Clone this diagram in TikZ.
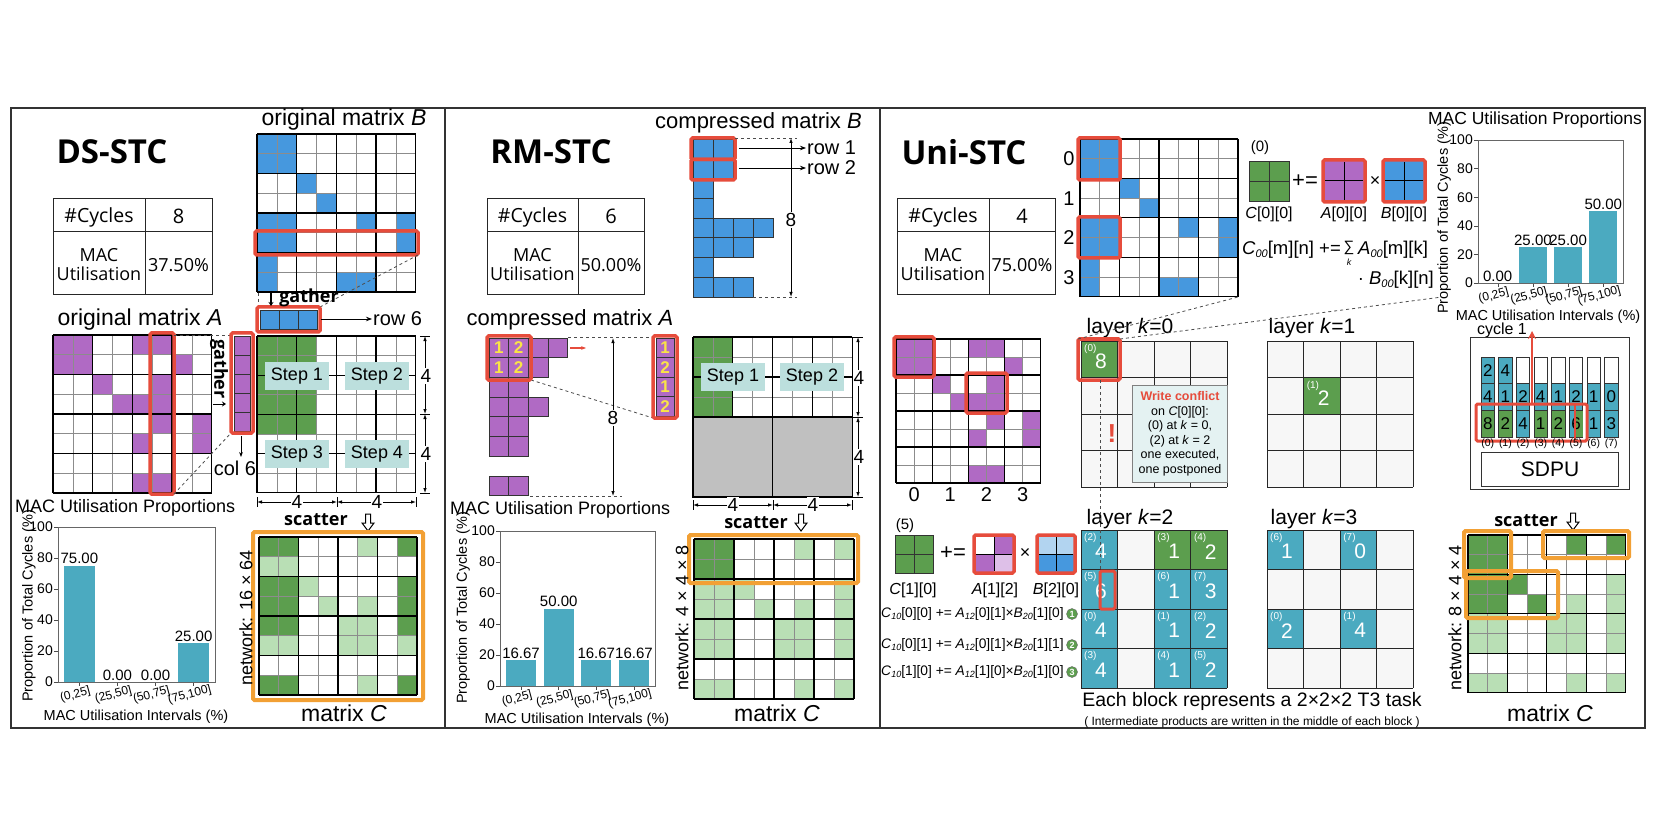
\documentclass[tikz,border=0pt]{standalone}
\usepackage{fontspec}
\setmainfont{Liberation Sans}
\newfontfamily\osans{Open Sans}
\usetikzlibrary{arrows.meta,calc}
\definecolor{purp}{RGB}{176,106,196}
\definecolor{lpurp}{RGB}{222,192,232}
\definecolor{blu}{RGB}{70,152,222}
\definecolor{lblu}{RGB}{178,212,240}
\definecolor{dgreen}{RGB}{92,158,78}
\definecolor{lgreen}{RGB}{185,223,181}
\definecolor{tealbar}{RGB}{75,170,192}
\definecolor{redc}{RGB}{230,76,60}
\definecolor{orangec}{RGB}{242,160,52}
\definecolor{stepc}{RGB}{188,223,221}
\definecolor{grayarea}{RGB}{192,192,192}
\definecolor{layerbg}{RGB}{247,247,247}
\definecolor{conflictbg}{RGB}{228,242,242}
\definecolor{yellowc}{RGB}{250,228,70}
\newcommand\fs[2]{\fontsize{#1}{#2}\selectfont}
\newcommand\subi[1]{\raisebox{-2.5pt}{\fs{11}{11}\itshape #1}}
\newcommand\subj[1]{\raisebox{-2pt}{\fs{9}{9}\itshape #1}}
\newcommand\mcells[6]{\foreach \ri/\ci in #6 {\fill[#5] ({#1+\ci*#3},{#2+\ri*#4}) rectangle ++(#3,#4);}}
\newcommand\mgridb[6]{%
  \foreach \ii in {0,...,#5} {\draw[gline] ({#1+\ii*#3},#2) -- ++(0,{#6*#4});}
  \foreach \ii in {0,...,#6} {\draw[gline] (#1,{#2+\ii*#4}) -- ++({#5*#3},0);}
  \foreach \ii in {0,2,...,#5} {\draw[bline] ({#1+\ii*#3},#2) -- ++(0,{#6*#4});}
  \foreach \ii in {0,2,...,#6} {\draw[bline] (#1,{#2+\ii*#4}) -- ++({#5*#3},0);}
}
\newcommand\hdarrow[2]{\draw[black,line width=1pt,fill=white] ({#1-2.5},#2) -- ({#1+2.5},#2) -- ({#1+2.5},{#2+9}) -- ({#1+6},{#2+9}) -- (#1,{#2+17}) -- ({#1-6},{#2+9}) -- ({#1-2.5},{#2+9}) -- cycle;}
\newcommand\stctable[6]{%
  \draw[black!85,line width=1pt] (#1,199) rectangle (#3,295);
  \draw[black!85,line width=1pt] (#2,199) -- (#2,295) (#1,232) -- (#3,232);
  \node[tabtxt,font=\osans\fs{19.5}{20}] (#6cyc) at ({(#1+#2)/2},217) {\#Cycles};
  \node[tabtxt,font=\osans\fs{20}{20}] (#6cycv) at ({(#2+#3)/2},216) {#4};
  \node[tabtxt] (#6mac) at ({(#1+#2)/2},265) {MAC\\Utilisation};
  \node[tabtxt] (#6macv) at ({(#2+#3)/2},265) {#5};
}
\newcommand\macchart[9]{%
  \pgfmathsetmacro\chsp{(#2-#1)/4.12}
  \pgfmathsetmacro\chsc{(#3-#4)/100}
  \foreach \vv [count=\ii from 0] in {#5,#6,#7,#8} {
    \pgfmathsetmacro\chx{#1+(\ii+0.56)*\chsp}
    \pgfmathsetmacro\chy{#3-\vv*\chsc}
    \fill[tealbar] ({\chx-0.4*\chsp},#3) rectangle ({\chx+0.4*\chsp},\chy);
    \node[font=\fs{15}{15},anchor=south,inner sep=1.5pt] (#9v\ii) at (\chx,\chy) {\vv};
    \draw[black!70] (\chx,#3) -- ++(0,4);
  }
  \draw[black!60,line width=0.8pt] (#1,#4) rectangle (#2,#3);
  \foreach \tk in {0,20,...,100} {
    \draw[black!70] (#1,{#3-\tk*\chsc}) -- ++(-4,0);
    \node[font=\fs{14}{14},anchor=east,inner sep=1pt] (#9t\tk) at ({#1-4},{#3-\tk*\chsc}) {\tk};
  }
  \foreach \lab [count=\ii from 0] in {{(0,25]},{(25,50]},{(50,75]},{(75,100]}} {
    \pgfmathsetmacro\chx{#1+(\ii+0.56)*\chsp}
    \node[font=\fs{12}{13},rotate=15,inner sep=0pt] (#9x\ii) at ({\chx-4},{#3+13}) {\lab};
  }
}
\def\lbw{36.6}
\newcommand\layergrid[3]{% x0, y0, block height
  \foreach \ii in {0,...,4} {\draw[black!85,line width=0.9pt] ({#1+\ii*\lbw},#2) -- ++(0,{4*#3});
    \draw[black!85,line width=0.9pt] (#1,{#2+\ii*#3}) -- ++({4*\lbw},0);}
}
\newcommand\lblk[8]{% x0,y0,row,col,color,idx,val,blockh
  \fill[#5] ({#1+#4*\lbw},{#2+#3*#8}) rectangle ++(\lbw,#8);
  \node[font=\fs{10}{10},text=white,anchor=north west,inner sep=0pt] at ({#1+#4*\lbw+3},{#2+#3*#8+3}) {(#6)};
  \node[font=\fs{21}{21},text=white,inner sep=0pt] at ({#1+#4*\lbw+20},{#2+#3*#8+#8/2+2}) {#7};
}
\def\Alist{0/0,0/1,0/4,0/5,1/0,1/1,1/6,2/2,2/5,3/3,3/4,3/5,4/5,4/7,5/4,5/7,7/4,7/5}
\def\Blist{0/0,0/1,1/0,1/1,2/2,3/3,4/0,4/1,4/5,4/7,5/0,5/1,5/7,6/0,7/0,7/4,7/5}
\def\DSdark{0/0,0/1,0/7,2/0,2/1,2/7,3/0,3/1,3/7,4/0,4/1,4/7,7/0,7/1,7/7}
\def\DSlight{0/5,1/0,1/1,2/2,3/3,3/5,4/4,4/5,5/0,5/1,5/4,5/5,5/7,7/5}
\def\RMlight{0/5,0/7,2/0,2/1,2/2,2/7,3/0,3/1,3/3,3/5,3/7,4/0,4/1,4/4,4/5,4/7,5/0,5/1,5/4,5/5,5/7,7/0,7/1,7/5,7/7}
\def\UNdark{0/0,0/1,1/0,1/1,0/5,0/7,2/2,3/3,2/0,2/1,3/0,3/1}
\def\UNlight{2/7,3/5,3/7,4/0,4/1,4/4,4/5,4/7,5/0,5/1,5/4,5/5,5/7,7/0,7/1,7/5,7/7}
\tikzset{
  gline/.style={black!45,line width=0.7pt},
  bline/.style={black,line width=1.3pt},
  redbox/.style={draw=redc,line width=3.5pt,rounded corners=1.5pt},
  orbox/.style={draw=orangec,line width=4pt,rounded corners=1.5pt},
  stepbox/.style={fill=stepc,minimum width=64pt,minimum height=28pt,inner sep=0pt,font=\fs{18}{20}},
  tabtxt/.style={font=\osans\fs{18}{19},align=center,inner sep=0pt},
  stctitle/.style={font=\osans\bfseries\fs{33}{36}},
  lab23/.style={font=\fs{23}{27},inner sep=0pt},
  boldlab/.style={font=\osans\bfseries\fs{18}{20},inner sep=0pt},
  dimline/.style={black,line width=0.8pt,>={Latex[length=5pt,width=3.5pt]},<->},
  dashedl/.style={dashed,black!70,line width=0.8pt},
  tinycell/.style={draw=black!80,line width=0.8pt},
  dimnum/.style={fill=white,inner sep=1pt,font=\fs{19}{19}},
}
\begin{document}
\begin{tikzpicture}[x=1pt,y=-1pt]
\useasboundingbox (0,0) rectangle (1660,834);
\fill[white] (0,0) rectangle (1660,834);
\draw[black!80,line width=1.2pt] (11,108) rectangle (1645,728);
\draw[black!80,line width=1.2pt] (445,108) -- (445,728);
\draw[black!80,line width=1.2pt] (880,108) -- (880,728);

%================ DS-STC =================
\node[stctitle] (dstitle) at (112,152) {DS-STC};
\stctable{53}{145}{212}{8}{37.50\%}{ds}
\node[lab23] (dsAl) at (140,320) {original matrix \textit{A}};
\mcells{53}{335}{19.85}{19.75}{purp}{\Alist}
\mgridb{53}{335}{19.85}{19.75}{8}{8}
\draw[redbox] (150,333) rectangle (174,494);
\node[lab23] (dsBl) at (344,120) {original matrix \textit{B}};
\mcells{257}{134}{19.85}{19.75}{blu}{\Blist}
\mgridb{257}{134}{19.85}{19.75}{8}{8}
\draw[redbox] (255,231) rectangle (418,255);
\coordinate (dsBr) at (418,255);
\coordinate (dsGr) at (320,307);
\draw[dashedl] (dsBr) -- (dsGr);
\draw[dashedl] (258,293) -- (258,307);
\foreach \ii in {0,1,2} {\draw[tinycell,fill=blu] ({260+\ii*19},310) rectangle ++(19,19);}
\draw[redbox] (257,307) rectangle (320,332);
\draw[black,line width=1.3pt,-{Stealth[length=4pt,width=5pt]}] (271,291) -- (271,306);
\node[boldlab] (dsgath) at (309,298) {gather};
\node[font=\fs{20}{22},anchor=west,inner sep=1pt] (dsrow6) at (372,319) {row 6};
\draw[black,line width=0.8pt,-{Stealth[length=6pt]}] (dsGr |- dsrow6.west) ++(1,0) -- (dsrow6.west);
\coordinate (dsAr1) at (174,335);
\coordinate (dsAr2) at (174,494);
\coordinate (dsGc1) at (231,335);
\coordinate (dsGc2) at (231,433);
\draw[dashedl] (dsAr1) -- (dsGc1);
\draw[dashedl] (dsAr2) -- (dsGc2);
\foreach \ii in {0,...,4} {\draw[tinycell,fill=purp] (234,{336+\ii*19}) rectangle ++(16,19);}
\draw[redbox] (231,333) rectangle (253,433);
\node[boldlab,rotate=-90] (dsgath2) at (219,369) {gather};
\draw[black,line width=1pt,-{Stealth[length=4pt,width=5pt]}] (213,404) -- (226,404);
\node[font=\fs{20}{22},inner sep=0pt] (dscol6) at (235,468) {col 6};
\draw[black,line width=0.8pt,-{Stealth[length=5pt]}] (241,436) -- (241,457);
\mcells{257}{336}{19.85}{19.6}{dgreen}{{0/0,0/1,0/2,1/0,1/1,1/2,2/0,2/1,2/2,3/0,3/1,3/2,4/0,4/1,4/2}}
\mgridb{257}{336}{19.85}{19.6}{8}{8}
\draw[black,line width=1.6pt] (336.4,336) -- (336.4,492.8) (257,414.4) -- (415.8,414.4);
\node[stepbox] (ds1) at (297,376) {Step 1};
\node[stepbox] (ds2) at (377,376) {Step 2};
\node[stepbox] (ds3) at (297,454) {Step 3};
\node[stepbox] (ds4) at (377,454) {Step 4};
\draw[dimline] (425,336) -- (425,414);
\draw[dimline] (425,414) -- (425,493);
\draw[black,line width=0.8pt] (420,336) -- (430,336) (420,414) -- (430,414) (420,493) -- (430,493);
\node[dimnum] (dsd1) at (426,376) {4};
\node[dimnum] (dsd2) at (426,454) {4};
\draw[dimline] (257,502) -- (337,502);
\draw[dimline] (337,502) -- (416,502);
\draw[black,line width=0.8pt] (257,497) -- (257,507) (337,497) -- (337,507) (416,497) -- (416,507);
\node[dimnum] (dsd3) at (297,502) {4};
\node[dimnum] (dsd4) at (377,502) {4};
\node[boldlab] (dsscat) at (316,520) {scatter};
\hdarrow{368}{514}
\mcells{259}{537}{19.75}{19.75}{dgreen}{\DSdark}
\mcells{259}{537}{19.75}{19.75}{lgreen}{\DSlight}
\mgridb{259}{537}{19.75}{19.75}{8}{8}
\draw[orbox] (253,532) rectangle (423,700);
\node[font=\fs{18}{20},rotate=90,inner sep=0pt] (dsnet) at (246,618) {network: 16 × 64};
\node[lab23] (dsCl) at (344,713) {matrix \textit{C}};
\node[font=\fs{18}{20},anchor=west,inner sep=0pt] (dsct) at (15,508) {MAC Utilisation Proportions};
\macchart{58}{215}{682}{527}{75.00}{0.00}{0.00}{25.00}{ds}
\node[font=\fs{14.5}{16},rotate=90,inner sep=0pt] (dsyl) at (29,606) {Proportion of Total Cycles (\%)};
\node[font=\fs{14.5}{16},inner sep=0pt] (dsxl) at (136,717) {MAC Utilisation Intervals (\%)};

%================ RM-STC =================
\node[stctitle] (rmtitle) at (551,152) {RM-STC};
\stctable{487}{578}{644}{6}{50.00\%}{rm}
\node[font=\fs{22}{26},anchor=west,inner sep=0pt] (rmBl) at (655,123) {compressed matrix \textit{B}};
\foreach \rr/\nn in {0/2,1/2,2/1,3/1,4/4,5/3,6/1,7/3} {\foreach \ii in {1,...,\nn} {\draw[tinycell,fill=blu] ({693+(\ii-1)*20},{139+\rr*19.75}) rectangle ++(20,19.75);}}
\draw[redbox] (691,138) rectangle (735,159.5);
\draw[redbox] (691,159.5) rectangle (735,180);
\node[font=\fs{20}{22},anchor=west,inner sep=1pt] (rmr1) at (806,148) {row 1};
\node[font=\fs{20}{22},anchor=west,inner sep=1pt] (rmr2) at (806,168) {row 2};
\draw[black,line width=0.8pt,-{Stealth[length=6pt]}] (739,148) -- (rmr1.west);
\draw[black,line width=0.8pt,-{Stealth[length=6pt]}] (739,168) -- (rmr2.west);
\draw[dashedl] (735,138) -- (797,138);
\draw[dashedl] (753,297) -- (797,297);
\draw[dimline] (791,138) -- (791,297);
\node[dimnum] (rmd8b) at (791,220) {8};
\node[font=\fs{22}{26},inner sep=0pt] (rmAl) at (570,320) {compressed matrix \textit{A}};
\draw[dashedl] (568,337) -- (653,337);
\draw[dashedl] (530,496) -- (622,496);
\draw[dashedl] (531,380) -- (653,418);
\foreach \rr/\nn in {0/4,1/3,2/2,3/3,4/2,5/2,7/2} {\foreach \ii in {1,...,\nn} {\draw[tinycell,fill=purp] ({489+(\ii-1)*19.7},{338+\rr*19.7}) rectangle ++(19.7,19.7);}}
\draw[redbox] (487,336) rectangle (531,380);
\foreach \rr/\ci/\tx in {0/0/1,0/1/2,1/0/1,1/1/2} {\node[font=\bfseries\fs{17}{17},text=yellowc,inner sep=0pt] (rmy\rr\ci) at ({489+\ci*19.7+9.85},{338+\rr*19.7+10}) {\tx};}
\draw[redc,line width=1.5pt,-{Stealth[length=5pt]}] (570,348) -- (586,348);
\draw[dimline] (613,338) -- (613,496);
\node[dimnum] (rmd8a) at (613,418) {8};
\foreach \ii/\tx in {0/1,1/2,2/1,3/2} {\draw[tinycell,fill=purp] (656,{338+\ii*19.5}) rectangle ++(18,19.5);
  \node[font=\bfseries\fs{17}{17},text=yellowc,inner sep=0pt] (rmv\ii) at (665,{338+\ii*19.5+10}) {\tx};}
\draw[redbox] (653,336) rectangle (677,418);
\mcells{693}{337}{19.9}{20}{dgreen}{{0/0,0/1,1/0,1/1,2/0,2/1,3/0,3/1}}
\mgridb{693}{337}{19.9}{20}{8}{4}
\fill[grayarea] (693,417) rectangle (852.2,497);
\draw[black,line width=1.3pt] (693,417) rectangle (852.2,497) (772.6,337) -- (772.6,497);
\node[stepbox] (rm1) at (733,377) {Step 1};
\node[stepbox] (rm2) at (812,377) {Step 2};
\draw[dimline] (858,337) -- (858,417);
\draw[dimline] (858,417) -- (858,497);
\draw[black,line width=0.8pt] (853,337) -- (863,337) (853,417) -- (863,417) (853,497) -- (863,497);
\node[dimnum] (rmd1) at (859,378) {4};
\node[dimnum] (rmd2) at (859,457) {4};
\draw[dimline] (693,505) -- (773,505);
\draw[dimline] (773,505) -- (852,505);
\draw[black,line width=0.8pt] (693,500) -- (693,510) (773,500) -- (773,510) (852,500) -- (852,510);
\node[dimnum] (rmd3) at (733,505) {4};
\node[dimnum] (rmd4) at (813,505) {4};
\node[boldlab] (rmscat) at (756,523) {scatter};
\hdarrow{801}{514}
\mcells{694}{539}{20}{20}{dgreen}{{0/0,0/1,1/0,1/1}}
\mcells{694}{539}{20}{20}{lgreen}{\RMlight}
\mgridb{694}{539}{20}{20}{8}{8}
\draw[orbox] (689,535) rectangle (858,583);
\node[font=\fs{18}{20},rotate=90,inner sep=0pt] (rmnet) at (682,618) {network: 4 × 4 × 8};
\node[lab23] (rmCl) at (777,713) {matrix \textit{C}};
\node[font=\fs{18}{20},anchor=west,inner sep=0pt] (rmct) at (450,510) {MAC Utilisation Proportions};
\macchart{500}{655}{686}{531}{16.67}{50.00}{16.67}{16.67}{rm}
\node[font=\fs{14.5}{16},rotate=90,inner sep=0pt] (rmyl) at (463,608) {Proportion of Total Cycles (\%)};
\node[font=\fs{14.5}{16},inner sep=0pt] (rmxl) at (577,720) {MAC Utilisation Intervals (\%)};

%================ Uni-STC =================
\node[stctitle] (untitle) at (964,152) {Uni-STC};
\stctable{897}{989}{1055}{4}{75.00\%}{un}
\mcells{1080}{139}{19.75}{19.7}{blu}{\Blist}
\mgridb{1080}{139}{19.75}{19.7}{8}{8}
\draw[redbox] (1078,138) rectangle (1120,180);
\draw[redbox] (1078,217) rectangle (1120,258);
\foreach \ii in {0,...,3} {\node[font=\fs{20}{20},inner sep=0pt] (unbr\ii) at (1069,{159+\ii*39.4}) {\ii};}
\node[font=\fs{15}{15},inner sep=0pt] (unf0) at (1260,148) {(0)};
\fill[dgreen] (1249,162) rectangle (1289,202);
\draw[black!80,line width=1pt] (1249,162) rectangle (1289,202) (1269,162) -- (1269,202) (1249,182) -- (1289,182);
\node[font=\fs{22}{22},inner sep=0pt] (unpe) at (1305,181) {+=};
\fill[purp] (1323,160) rectangle (1365,202);
\draw[black,line width=1pt] (1344,162) -- (1344,200) (1325,181) -- (1363,181);
\draw[redbox] (1323,160) rectangle (1365,202);
\node[font=\fs{18}{18},inner sep=0pt] (unx) at (1375,181) {×};
\fill[blu] (1383,160) rectangle (1425,202);
\draw[black,line width=1pt] (1404,162) -- (1404,200) (1385,181) -- (1423,181);
\draw[redbox] (1383,160) rectangle (1425,202);
\node[font=\fs{16}{16},inner sep=0pt] (unCl) at (1269,214) {\textit{C}[0][0]};
\node[font=\fs{16}{16},inner sep=0pt] (unAl) at (1344,214) {\textit{A}[0][0]};
\node[font=\fs{16}{16},inner sep=0pt] (unBl) at (1404,214) {\textit{B}[0][0]};
\node[font=\fs{18.5}{20},anchor=east,inner sep=0pt] (unfa) at (1341,250) {\textit{C}\subi{00}[m][n] +=};
\node[font=\fs{15}{15},inner sep=0pt] (unsum) at (1349,248) {∑};
\node[font=\itshape\fs{9}{9},inner sep=0pt] (unsk) at (1349,262) {k};
\node[font=\fs{18.5}{20},anchor=west,inner sep=0pt] (unfb) at (1358,250) {\textit{A}\subi{00}[m][k]};
\node[font=\fs{18.5}{20},anchor=east,inner sep=0pt] (unfc) at (1434,280) {· \textit{B}\subi{00}[k][n]};
\node[font=\fs{17.5}{20},inner sep=0pt] (unct) at (1535,120) {MAC Utilisation Proportions};
\macchart{1478}{1623}{283}{140}{0.00}{25.00}{25.00}{50.00}{un}
\node[font=\fs{14.5}{16},rotate=90,inner sep=0pt] (unyl) at (1444,218) {Proportion of Total Cycles (\%)};
\node[font=\fs{14.5}{16},inner sep=0pt] (unxl) at (1548,317) {MAC Utilisation Intervals (\%)};
% SDPU
\node[font=\fs{16}{16},inner sep=0pt] (uncyc) at (1502,330) {cycle 1};
\draw[black!80,line width=1pt] (1470,338) rectangle (1629,489);
\foreach \ii in {0,...,7} {\draw[tinycell,fill=white] ({1481+\ii*17.65},357) rectangle ++(13.5,26.7);}
\foreach \ii/\tv in {0/2,1/4} {\draw[tinycell,fill=tealbar] ({1481+\ii*17.65},357) rectangle ++(13.5,26.7);
  \node[font=\fs{17}{17},inner sep=0pt] (sdt\ii) at ({1481+\ii*17.65+6.75},370.5) {\tv};}
\foreach \ii/\tv in {0/4,1/1,2/2,3/4,4/1,5/2,6/1,7/0} {\draw[tinycell,fill=tealbar] ({1481+\ii*17.65},383.7) rectangle ++(13.5,26.7);
  \node[font=\fs{17}{17},inner sep=0pt] (sdm\ii) at ({1481+\ii*17.65+6.75},397) {\tv};}
\foreach \ii/\cl in {0/dgreen,1/dgreen,2/tealbar,3/dgreen,4/dgreen,5/tealbar,6/tealbar,7/tealbar} {\draw[tinycell,fill=\cl] ({1481+\ii*17.65},410.4) rectangle ++(13.5,26.7);}
\fill[dgreen] (1575.5,411) rectangle (1582.5,436.5);
\foreach \ii/\tv in {0/8,1/2,2/4,3/1,4/2,5/6,6/1,7/3} {\node[font=\fs{17}{17},inner sep=0pt] (sdb\ii) at ({1481+\ii*17.65+6.75},423.7) {\tv};}
\draw[redbox,line width=3pt] (1476,404) rectangle (1587,441);
\draw[redc,line width=2pt] (1574.5,404) -- (1574.5,441);
\coordinate (cycbase) at (1532,404);
\coordinate (cyctip) at (1532,331);
\draw[redc,line width=2.5pt,-{Stealth[length=8pt,width=8pt]}] (cycbase) -- (cyctip);
\foreach \ii in {0,...,7} {\node[font=\fs{10.5}{11},inner sep=0pt] (sdl\ii) at ({1481+\ii*17.65+6.75},444) {(\ii)};}
\draw[black!80,line width=1pt] (1481,452) rectangle (1618,486);
\node[font=\fs{21}{21},inner sep=0pt] (sdpu) at (1550,469) {SDPU};
% matrix A
\mcells{896}{339}{18.1}{18}{purp}{\Alist}
\mgridb{896}{339}{18.1}{18}{8}{8}
\draw[redbox] (894,337) rectangle (934,377);
\draw[redbox] (966,373) rectangle (1007,413);
\foreach \ii in {0,...,3} {\node[font=\fs{20}{20},inner sep=0pt] (unac\ii) at ({914.1+\ii*36.2},495) {\ii};}
% layers
\node[font=\fs{21}{22},inner sep=0pt] (lk0) at (1130,328) {layer \textit{k}=0};
\node[font=\fs{21}{22},inner sep=0pt] (lk1) at (1312,328) {layer \textit{k}=1};
\node[font=\fs{21}{22},inner sep=0pt] (lk2) at (1130,519) {layer \textit{k}=2};
\node[font=\fs{21}{22},inner sep=0pt] (lk3) at (1314,519) {layer \textit{k}=3};
\fill[layerbg] (1081,341) rectangle ++({4*\lbw},146.4);
\fill[layerbg] (1267,341) rectangle ++({4*\lbw},146.4);
\fill[layerbg] (1081,530) rectangle ++({4*\lbw},158);
\fill[layerbg] (1267,530) rectangle ++({4*\lbw},158);
\lblk{1081}{341}{0}{0}{dgreen}{0}{8}{36.6}
\lblk{1267}{341}{1}{1}{dgreen}{1}{2}{36.6}
\lblk{1081}{530}{0}{0}{tealbar}{2}{4}{39.5}
\lblk{1081}{530}{0}{2}{dgreen}{3}{1}{39.5}
\lblk{1081}{530}{0}{3}{dgreen}{4}{2}{39.5}
\lblk{1081}{530}{1}{0}{tealbar}{5}{6}{39.5}
\lblk{1081}{530}{1}{2}{tealbar}{6}{1}{39.5}
\lblk{1081}{530}{1}{3}{tealbar}{7}{3}{39.5}
\lblk{1081}{530}{2}{0}{tealbar}{0}{4}{39.5}
\lblk{1081}{530}{2}{2}{tealbar}{1}{1}{39.5}
\lblk{1081}{530}{2}{3}{tealbar}{2}{2}{39.5}
\lblk{1081}{530}{3}{0}{tealbar}{3}{4}{39.5}
\lblk{1081}{530}{3}{2}{tealbar}{4}{1}{39.5}
\lblk{1081}{530}{3}{3}{tealbar}{5}{2}{39.5}
\lblk{1267}{530}{0}{0}{tealbar}{6}{1}{39.5}
\lblk{1267}{530}{0}{2}{tealbar}{7}{0}{39.5}
\lblk{1267}{530}{2}{0}{tealbar}{0}{2}{39.5}
\lblk{1267}{530}{2}{2}{tealbar}{1}{4}{39.5}
\layergrid{1081}{341}{36.6}
\layergrid{1267}{341}{36.6}
\layergrid{1081}{530}{39.5}
\layergrid{1267}{530}{39.5}
\draw[redbox] (1078,339) rectangle (1120,380);
\draw[redbox,line width=3pt] (1100,571) rectangle (1115,609);
\coordinate (k0bot) at (1100,380);
\coordinate (k2top) at (1100,571);
\draw[dashed,black!70,line width=1pt] (k0bot) -- (k2top);
\node[draw=black!50,fill=conflictbg,minimum width=95pt,minimum height=97pt,inner sep=0pt,align=center,font=\fs{12.5}{14.5}] (wc) at (1180,434) {{\color{redc}\bfseries Write conflict}\\on \textit{C}[0][0]:\\(0) at \textit{k} = 0,\\(2) at \textit{k} = 2\\one executed,\\one postponed};
\node[text=redc,font=\bfseries\fs{26}{26},inner sep=0pt] (wcx) at (1112,434) {!};
\coordinate (k0tl) at (1078,339);
\coordinate (k0tr) at (1120,339);
\coordinate (fbl) at (1238,297);
\coordinate (fbr) at (1442,297);
\draw[dashedl] (k0tl) -- (fbl);
\draw[dashedl] (k0tr) -- (fbr);
% bottom-left formula
\node[font=\fs{15}{15},inner sep=0pt] (unf5) at (905,526) {(5)};
\fill[dgreen] (895,535) rectangle (933,573);
\draw[black!80,line width=1pt] (895,535) rectangle (933,573) (914,535) -- (914,573) (895,554) -- (933,554);
\node[font=\fs{22}{22},inner sep=0pt] (unpe2) at (953,553) {+=};
\fill[white] (974,535) rectangle (994,554);
\fill[purp] (994,535) rectangle (1014,554);
\fill[purp] (974,554) rectangle (994,573);
\fill[lpurp] (994,554) rectangle (1014,573);
\draw[black,line width=1pt] (994,537) -- (994,571) (976,554) -- (1012,554);
\draw[redbox] (974,535) rectangle (1014,573);
\node[font=\fs{18}{18},inner sep=0pt] (unx2) at (1025,553) {×};
\fill[lblu] (1037,535) rectangle (1075,554);
\fill[blu] (1037,554) rectangle (1075,573);
\draw[black,line width=1pt] (1056,537) -- (1056,571) (1039,554) -- (1073,554);
\draw[redbox] (1037,535) rectangle (1075,573);
\node[font=\fs{16}{16},inner sep=0pt] (unCl2) at (913,590) {\textit{C}[1][0]};
\node[font=\fs{16}{16},inner sep=0pt] (unAl2) at (995,590) {\textit{A}[1][2]};
\node[font=\fs{16}{16},inner sep=0pt] (unBl2) at (1056,590) {\textit{B}[2][0]};
\foreach \yy/\nn/\ta/\tb/\tc in {614/1/{[0][0]}/{[0][1]}/{[1][0]},645/2/{[0][1]}/{[0][1]}/{[1][1]},672/3/{[1][0]}/{[1][0]}/{[1][0]}} {
  \node[font=\fs{13.8}{15},anchor=west,inner sep=0pt] (eq\nn) at (881,\yy) {\textit{C}\subj{10}\ta{} += \textit{A}\subj{12}\tb×\textit{B}\subj{20}\tc};
  \node[circle,fill=dgreen,draw=black!60,text=white,inner sep=0pt,minimum size=11pt,font=\bfseries\fs{9}{9}] (eqc\nn) at (1072,\yy) {\nn};
}
% network C
\node[boldlab] (unscat) at (1526,521) {scatter};
\hdarrow{1573}{513}
\mcells{1468}{535}{19.7}{19.7}{dgreen}{\UNdark}
\mcells{1468}{535}{19.7}{19.7}{lgreen}{\UNlight}
\mgridb{1468}{535}{19.7}{19.7}{8}{8}
\draw[orbox] (1464,531) rectangle (1511,578);
\draw[orbox] (1543,531) rectangle (1629,558);
\draw[orbox] (1466,571) rectangle (1558,618);
\node[font=\fs{18}{20},rotate=90,inner sep=0pt] (unnet) at (1455,618) {network: 8 × 4 × 4};
\node[lab23] (unCC) at (1550,713) {matrix \textit{C}};
\node[font=\fs{19.5}{22},inner sep=0pt] (uneach) at (1252,701) {Each block represents a 2×2×2 T3 task};
\node[font=\fs{12}{14},inner sep=0pt] (unint) at (1252,722) {( Intermediate products are written in the middle of each block )};
\end{tikzpicture}
\end{document}
